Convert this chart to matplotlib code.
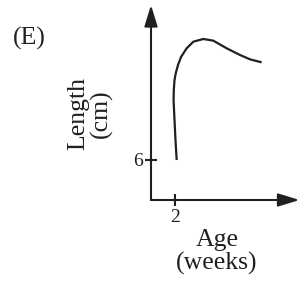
import matplotlib
matplotlib.use("Agg")
import matplotlib.pyplot as plt

# curve (age in weeks, length in cm)
age_weeks = [2.14, 2.09, 2.04, 2.00, 1.96, 1.92, 1.88, 1.90, 1.96, 2.06, 2.25,
             2.50, 2.97, 3.53, 4.36, 5.19, 6.31, 7.42, 8.25, 9.22]
length_cm = [6.0, 7.5, 9.0, 10.5, 12.0, 13.5, 15.0, 16.5, 18.0, 19.0, 20.25,
             21.45, 22.75, 23.75, 24.15, 23.9, 22.75, 21.75, 21.1, 20.65]

x_ticks = [2]
x_tick_labels = ["2"]
y_ticks = [6]
y_tick_labels = ["6"]

ink = "#231f20"
plt.rcParams["font.family"] = ["Liberation Serif", "DejaVu Serif"]

W, H = 298, 286
fig = plt.figure(figsize=(W / 100, H / 100), dpi=100)
ax = fig.add_axes([151 / W, (H - 200) / H, (W - 151) / W, 195 / H])

ax.plot(age_weeks, length_cm, color=ink, lw=1.6, solid_capstyle="butt")

ax.set_xlim(0, (W - 151) / 12)
ax.set_ylim(0, 195 * 0.15)

for s in ax.spines.values():
    s.set_visible(False)

# axes with arrow heads
arrow = dict(arrowstyle="-|>,head_length=0.65,head_width=0.2", color=ink,
             lw=1.5, mutation_scale=20, shrinkA=0, shrinkB=0)
ax.annotate("", xy=(0, 1.0), xytext=(0, 0), xycoords="axes fraction",
            arrowprops=arrow, annotation_clip=False)
ax.annotate("", xy=(1.01, 0), xytext=(0, 0), xycoords="axes fraction",
            arrowprops=arrow, annotation_clip=False)

ax.set_xticks(x_ticks, x_tick_labels)
ax.set_yticks(y_ticks, y_tick_labels)
ax.tick_params(direction="inout", length=8.5, width=1.5, color=ink,
               labelsize=14, labelcolor=ink, pad=2.5)
ax.tick_params(axis="y", pad=1.5)

fig.text(13 / W, 1 - 38 / H, "(E)", fontsize=18.5, color=ink,
         ha="left", va="center")
fig.text(90 / W, 1 - 114 / H, "Length\n(cm)", fontsize=18.5, color=ink,
         rotation=90, ha="center", va="center", multialignment="center",
         linespacing=1.05)
fig.text(217 / W, 1 - 252 / H, "Age\n(weeks)", fontsize=18.5, color=ink,
         ha="center", va="center", multialignment="center", linespacing=1.05)

fig.savefig("out.png", dpi=100)
